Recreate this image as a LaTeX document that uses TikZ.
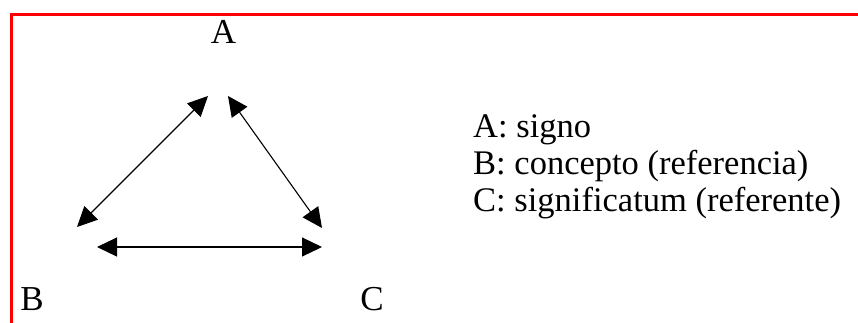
\documentclass[tikz,border=0pt]{standalone}
\usepackage{fontspec}
\setmainfont{Liberation Serif}
\usetikzlibrary{arrows.meta}
\begin{document}
\begin{tikzpicture}[x=1pt,y=-1pt,
  lbl/.style={font=\fontsize{35}{40}\selectfont, inner sep=0pt},
  leg/.style={font=\fontsize{34.5}{39}\selectfont, inner sep=0pt, anchor=base west},
  dbl/.style={line width=1.1pt, {Triangle[length=20pt,width=19pt]}-{Triangle[length=20pt,width=19pt]}},
  frame/.style={red, line width=2.8pt}]
\useasboundingbox (0,0) rectangle (858,322);
\draw[frame] (11.3,324) -- (11.3,14.5) -- (860,14.5);
\node[lbl, anchor=base] (A) at (223.5,43) {A};
\node[lbl, anchor=base] (B) at (32,310) {B};
\node[lbl, anchor=base] (C) at (372,310) {C};
\coordinate (ab) at (208,96);
\coordinate (ba) at (77,227);
\coordinate (ac) at (228,96);
\coordinate (ca) at (322,228);
\coordinate (bc) at (97,247);
\coordinate (cb) at (322,247);
\draw[dbl] (ba) -- (ab);
\draw[dbl] (ac) -- (ca);
\draw[dbl] (bc) -- (cb);
\node[leg] (l1) at (473,137) {A: signo};
\node[leg] (l2) at (473,174) {B: concepto (referencia)};
\node[leg] (l3) at (473,211) {C: significatum (referente)};
\end{tikzpicture}
\end{document}
